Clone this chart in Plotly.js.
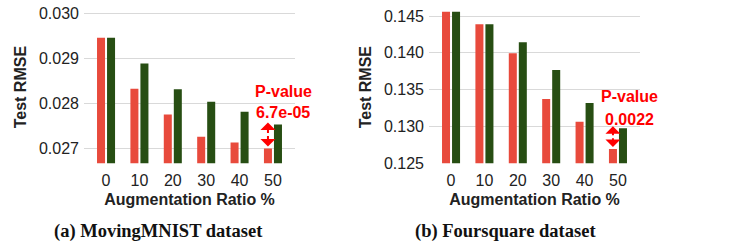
<!DOCTYPE html>
<html>
<head>
<meta charset="utf-8">
<script src="https://cdn.plot.ly/plotly-3.0.1.min.js"></script>
<style>
  html, body { margin: 0; padding: 0; background: #fff; }
  #chart { width: 733px; height: 247px; }
</style>
</head>
<body>
<div id="chart"></div>
<script>
// ---- data ----
const categories = ['0', '10', '20', '30', '40', '50'];
const mnistRed   = [0.02946, 0.02833, 0.02776, 0.02727, 0.02714, 0.02701];
const mnistGreen = [0.02946, 0.02889, 0.02832, 0.02804, 0.02782, 0.02754];
const fsqRed     = [0.14558, 0.14387, 0.13993, 0.13373, 0.13065, 0.12694];
const fsqGreen   = [0.14558, 0.14387, 0.14143, 0.13767, 0.13319, 0.12975];
const mnistTicks = [0.027, 0.028, 0.029, 0.030];
const mnistTickText = ['0.027', '0.028', '0.029', '0.030'];
const fsqTicks = [0.125, 0.130, 0.135, 0.140, 0.145];
const fsqTickText = ['0.125', '0.130', '0.135', '0.140', '0.145'];
const pValues = ['6.7e-05', '0.0022'];
const captions = ['(a) MovingMNIST dataset', '(b) Foursquare dataset'];
const yTitle = 'Test RMSE';
const xTitle = 'Augmentation Ratio %';

// ---- style ----
const RED = '#e84a3c';
const GREEN = '#274e13';
const ANNO_RED = '#ff0000';
const W = 733, H = 247;
const font = 'Liberation Sans, Arial, sans-serif';
const BARGAP = 0.4;
const redOffset = -(1 - BARGAP) / 4; // centre of first bar in group

function px(x) { return x / W; }
function py(y) { return 1 - y / H; }

const idx = categories.map((_, i) => i);

const traces = [
  { type: 'bar', x: idx, y: mnistRed, marker: { color: RED }, xaxis: 'x', yaxis: 'y', showlegend: false, hoverinfo: 'skip' },
  { type: 'bar', x: idx, y: mnistGreen, marker: { color: GREEN }, xaxis: 'x', yaxis: 'y', showlegend: false, hoverinfo: 'skip' },
  { type: 'bar', x: idx, y: fsqRed, marker: { color: RED }, xaxis: 'x2', yaxis: 'y2', showlegend: false, hoverinfo: 'skip' },
  { type: 'bar', x: idx, y: fsqGreen, marker: { color: GREEN }, xaxis: 'x2', yaxis: 'y2', showlegend: false, hoverinfo: 'skip' }
];

const xCommon = {
  type: 'linear',
  tickvals: idx,
  ticktext: categories,
  range: [-0.66, 5.66],
  showgrid: false,
  zeroline: false,
  showline: false,
  ticks: '',
  ticklabelstandoff: 6,
  tickfont: { family: font, size: 16, color: '#222' },
  title: { text: xTitle, font: { family: font, size: 16, color: '#222', weight: 'bold' }, standoff: 5 }
};
const yCommon = {
  showgrid: true,
  gridcolor: '#d9d9d9',
  gridwidth: 1,
  zeroline: false,
  showline: false,
  ticks: '',
  ticklabelstandoff: 4,
  tickfont: { family: font, size: 16, color: '#222' },
  title: { text: yTitle, font: { family: font, size: 16, color: '#222', weight: 'bold' }, standoff: 8 }
};

const yDomain = [py(163.3), py(11)];

const layout = {
  width: W, height: H,
  margin: { l: 0, r: 0, t: 0, b: 0, pad: 0 },
  paper_bgcolor: '#fff',
  plot_bgcolor: '#fff',
  barmode: 'group',
  bargap: BARGAP,
  bargroupgap: 0.2,
  showlegend: false,
  xaxis: Object.assign({}, xCommon, { domain: [px(84), px(295)], anchor: 'y' }),
  xaxis2: Object.assign({}, xCommon, { domain: [px(429), px(640)], anchor: 'y2' }),
  yaxis: Object.assign({}, yCommon, { domain: yDomain, anchor: 'x', range: [0.02668, 0.03005], tickvals: mnistTicks, ticktext: mnistTickText }),
  yaxis2: Object.assign({}, yCommon, { domain: yDomain, anchor: 'x2', range: [0.125, 0.14568], tickvals: fsqTicks, ticktext: fsqTickText }),
  annotations: []
};

// p-value arrows and labels
const panels = [
  { xa: 'x', ya: 'y', red: mnistRed, green: mnistGreen, valShift: 12, labShift: 33, xs: 10.5 },
  { xa: 'x2', ya: 'y2', red: fsqRed, green: fsqGreen, valShift: 9, labShift: 31.5, xs: 12 }
];
panels.forEach((p, k) => {
  const last = categories.length - 1;
  const ax = last + redOffset;
  const lo = p.red[last], hi = p.green[last];
  const common = {
    xref: p.xa, yref: p.ya, axref: p.xa, ayref: p.ya,
    showarrow: true, arrowhead: 1, arrowsize: 1.25, arrowwidth: 2,
    arrowcolor: ANNO_RED, text: '', standoff: 0, startstandoff: 0, yshift: 2
  };
  layout.annotations.push(Object.assign({}, common, { x: ax, y: hi, ax: ax, ay: (lo + hi) / 2 }));
  layout.annotations.push(Object.assign({}, common, { x: ax, y: lo, ax: ax, ay: (lo + hi) / 2 }));
  layout.annotations.push({
    xref: p.xa, yref: p.ya, x: last, y: hi, showarrow: false,
    text: 'P-value', font: { family: font, size: 16, color: ANNO_RED, weight: 'bold' },
    xanchor: 'center', yanchor: 'middle', yshift: p.labShift, xshift: p.xs
  });
  layout.annotations.push({
    xref: p.xa, yref: p.ya, x: last, y: hi, showarrow: false,
    text: pValues[k], font: { family: font, size: 16, color: ANNO_RED, weight: 'bold' },
    xanchor: 'center', yanchor: 'middle', yshift: p.valShift, xshift: p.xs
  });
});

// captions
[158.8, 505].forEach((cx, k) => {
  layout.annotations.push({
    xref: 'paper', yref: 'paper', x: px(cx), y: py(231.5), showarrow: false,
    text: captions[k], xanchor: 'center', yanchor: 'middle',
    font: { family: 'Liberation Serif, Times New Roman, serif', size: 18.5, color: '#111', weight: 'bold' }
  });
});

Plotly.newPlot('chart', traces, layout, { staticPlot: true, displayModeBar: false });
</script>
</body>
</html>
